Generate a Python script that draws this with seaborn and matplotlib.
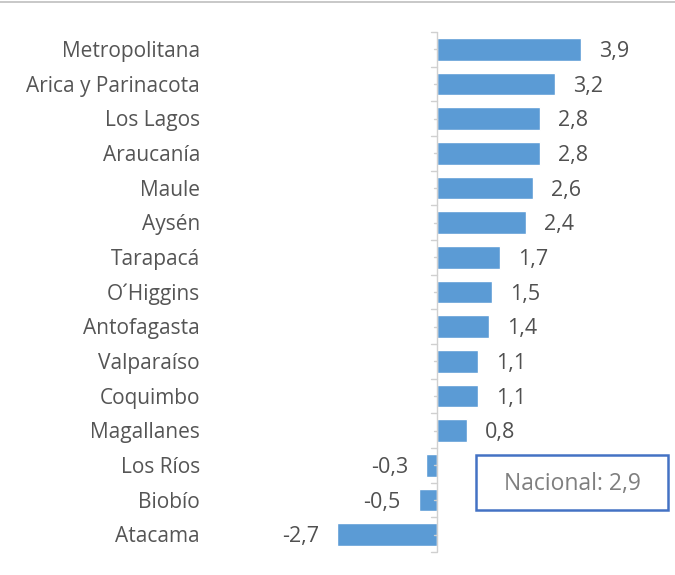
import matplotlib
matplotlib.use("Agg")
import matplotlib.pyplot as plt
import seaborn as sns
import pandas as pd
from matplotlib.patches import Rectangle
from matplotlib.lines import Line2D
import matplotlib.transforms as mtransforms

regions = ["Metropolitana", "Arica y Parinacota", "Los Lagos", "Araucanía", "Maule",
           "Aysén", "Tarapacá", "O´Higgins", "Antofagasta", "Valparaíso", "Coquimbo",
           "Magallanes", "Los Ríos", "Biobío", "Atacama"]
values = [3.9, 3.2, 2.8, 2.8, 2.6, 2.4, 1.7, 1.5, 1.4, 1.1, 1.1, 0.8, -0.3, -0.5, -2.7]
nacional_label = "Nacional: 2,9"

sns.set_theme(style="white")
plt.rcParams['font.family'] = ['Open Sans', 'DejaVu Sans']

W, H = 675, 575
fig = plt.figure(figsize=(W / 100, H / 100), dpi=100)
fig.patch.set_facecolor("white")

# axes placement in pixels
ax_left_px, ax_right_px = 300, 640
ax_top_px, ax_bot_px = 32, 552
ax = fig.add_axes([ax_left_px / W, 1 - ax_bot_px / H,
                   (ax_right_px - ax_left_px) / W, (ax_bot_px - ax_top_px) / H])

df = pd.DataFrame({"region": regions, "value": values})
sns.barplot(data=df, y="region", x="value", orient="h", color="#5B9BD5",
            width=0.65, saturation=1, ax=ax)

zero_px = 437
scale = 36.9
ax.set_xlim((ax_left_px - zero_px) / scale, (ax_right_px - zero_px) / scale)
ax.set_ylim(len(regions) - 0.5, -0.5)

for s in ["top", "right", "bottom", "left"]:
    ax.spines[s].set_visible(False)
ax.axvline(0, color="#D0D0D0", lw=1.0, zorder=3)
ax.set_xticks([])
ax.set_xlabel("")
ax.set_ylabel("")
ax.set_yticks([])
# tick marks along the zero axis
for i in range(len(regions) + 1):
    yb = i - 0.5
    ax.plot([-0.16, 0], [yb, yb], color="#D0D0D0", lw=1.0, zorder=3, clip_on=False)
for i in range(len(regions)):
    ax.plot([-0.09, 0], [i, i], color="#D0D0D0", lw=1.0, zorder=3, clip_on=False)

dy = 0.06
# category labels (low position, left side)
trans = mtransforms.blended_transform_factory(fig.transFigure, ax.transData)
for i, r in enumerate(regions):
    fig.text(200 / W, i + dy, r, transform=trans, ha="right", va="center",
             fontsize=15, color="#555555")

# value labels
for i, v in enumerate(values):
    lab = f"{v:.1f}".replace(".", ",")
    off = 18 / scale
    if v >= 0:
        ax.text(v + off, i + dy, lab, ha="left", va="center", fontsize=15.5, color="#505050")
    else:
        ax.text(v - off, i + dy, lab, ha="right", va="center", fontsize=15.5, color="#505050")

# Nacional box
bx0, bx1, by0, by1 = 476, 668, 455, 510
fig.add_artist(Rectangle((bx0 / W, 1 - by1 / H), (bx1 - bx0) / W, (by1 - by0) / H,
                         transform=fig.transFigure, fill=False, edgecolor="#4472C4", lw=1.8))
fig.text((bx0 + bx1) / 2 / W, 1 - (by0 + by1 + 3) / 2 / H, nacional_label,
         ha="center", va="center", fontsize=16.5, color="#7F7F7F")

# outer frame line at top
fig.add_artist(Line2D([0, 1], [1 - 1.5 / H, 1 - 1.5 / H], transform=fig.transFigure,
                      color="#BFBFBF", lw=1.2))

fig.savefig("out.png", dpi=100)
